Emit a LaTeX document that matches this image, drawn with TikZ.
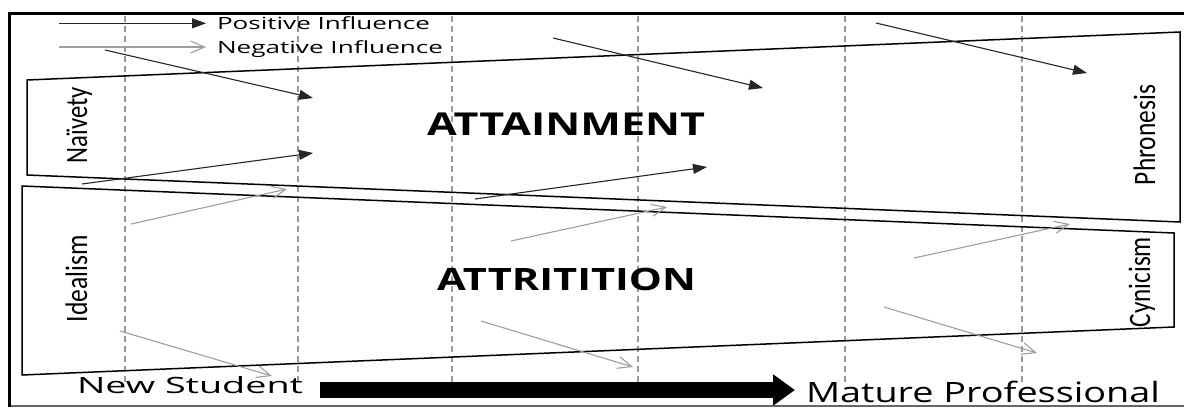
\documentclass[tikz,border=0pt]{standalone}
\usepackage{fontspec}
\usepackage{graphicx}
\usetikzlibrary{arrows.meta}
\newfontfamily\osans{Open Sans}
\newfontfamily\calib{Carlito}
\newcommand\fitbox[4]{\resizebox{#1}{#2}{#3\smash{#4}\vphantom{X}}}
\begin{document}
\begin{tikzpicture}[x=1pt,y=-1pt,
  txt/.style={inner sep=0pt, outer sep=0pt},
  posarrow/.style={draw=black!85, line width=1.1pt, -{Triangle[length=14pt,width=10pt]}},
  negarrow/.style={draw=black!38, line width=1.1pt, -{Straight Barb[length=14pt,width=12pt]}},
  guide/.style={draw=black!40, line width=1.2pt, dash pattern=on 6pt off 4pt},
  band/.style={draw=black, line width=1.5pt, line join=miter},
  bigarrow/.style={draw=black, line width=16pt, -{Triangle[length=22pt,width=30pt]}},
]
\useasboundingbox (0,0) rectangle (1184,408);
% frame
\draw[black!60, line width=1.5pt] (9,406) -- (1186,406);
\draw[black, line width=3pt] (9,407) -- (9,13) -- (1186,13);
% dashed guides
\foreach \x in {125,298,452,638,845,1022} \draw[guide] (\x,16) -- (\x,384);
% bands
\draw[band] (27,80) -- (1180,32) -- (1180,222) -- (27,175) -- cycle;
\draw[band] (22,186) -- (1174,233) -- (1174,327) -- (22,375) -- cycle;
% legend
\node[txt, anchor=base west] (pos) at (217,29.3) {\fitbox{213pt}{12pt}{\osans}{Positive Influence}};
\node[txt, anchor=base west] (neg) at (217,53) {\fitbox{226pt}{12pt}{\osans}{Negative Influence}};
\coordinate (lps) at (59,23.3);
\coordinate (lns) at (59,47);
\draw[posarrow, shorten >=11pt] (lps) -- (lps -| pos.west);
\draw[negarrow, shorten >=11pt] (lns) -- (lns -| neg.west);
% big titles
\node[txt, anchor=base west] (attain) at (427,135) {\fitbox{278pt}{22.5pt}{\osans\bfseries}{ATTAINMENT}};
\node[txt, anchor=base west] (attri) at (437,290) {\fitbox{259pt}{22pt}{\osans\bfseries}{ATTRITITION}};
% side labels
\node[txt, rotate=90, anchor=base] (naiv) at (87,125) {\fitbox{76pt}{20pt}{\calib}{Naïvety}};
\node[txt, rotate=90, anchor=base] (ideal) at (87,278.5) {\fitbox{87pt}{20pt}{\calib}{Idealism}};
\node[txt, rotate=90, anchor=base] (phron) at (1155,135) {\fitbox{100pt}{20pt}{\calib}{Phronesis}};
\node[txt, rotate=90, anchor=base] (cyn) at (1150,282) {\fitbox{90pt}{20pt}{\calib}{Cynicism}};
% bottom axis
\node[txt, anchor=base west] (new) at (77,393) {\fitbox{226pt}{16pt}{\osans}{New Student}};
\node[txt, anchor=base west] (mature) at (806,402) {\fitbox{354pt}{20pt}{\osans}{Mature Professional}};
\coordinate (bs) at (320,390);
\coordinate (be) at (795,390);
\draw[bigarrow] (bs) -- (be);
% positive influences
\coordinate (a1s) at (105,50);  \coordinate (a1e) at (313,98);
\coordinate (a2s) at (553,38);  \coordinate (a2e) at (763,88);
\coordinate (a3s) at (876,23);  \coordinate (a3e) at (1087,73);
\coordinate (a4s) at (82,184);  \coordinate (a4e) at (313,153);
\coordinate (a5s) at (475,199); \coordinate (a5e) at (707,167);
\foreach \i in {1,...,5} \draw[posarrow] (a\i s) -- (a\i e);
% negative influences
\coordinate (n1s) at (131,224); \coordinate (n1e) at (287,189);
\coordinate (n2s) at (511,241); \coordinate (n2e) at (667,207);
\coordinate (n3s) at (914,258); \coordinate (n3e) at (1070,224);
\coordinate (n4s) at (120,331); \coordinate (n4e) at (272,376);
\coordinate (n5s) at (481,321); \coordinate (n5e) at (633,367);
\coordinate (n6s) at (884,307); \coordinate (n6e) at (1037,353);
\foreach \i in {1,...,6} \draw[negarrow] (n\i s) -- (n\i e);
\end{tikzpicture}
\end{document}
